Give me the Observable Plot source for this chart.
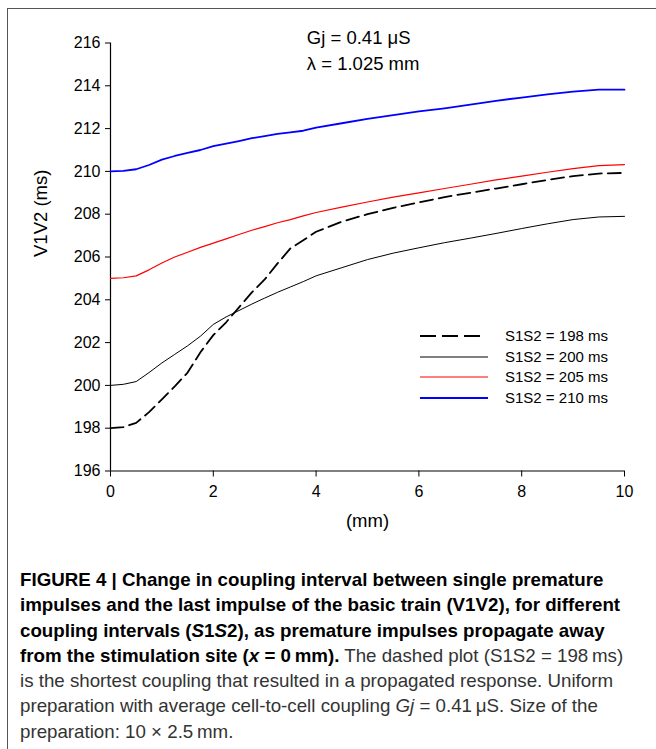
<!DOCTYPE html>
<html>
<head>
<meta charset="utf-8">
<script src="https://cdn.jsdelivr.net/npm/d3@7"></script>
<script src="https://cdn.jsdelivr.net/npm/@observablehq/plot@0.6"></script>
<style>
  html, body { margin: 0; padding: 0; background: #fff; }
  #wrap { position: relative; width: 656px; height: 749px; overflow: hidden; font-family: "Liberation Sans", Arial, sans-serif; }
  #frame { position: absolute; left: 7px; top: 7.5px; right: -10px; bottom: -10px; border-left: 1.6px solid #555; border-top: 1.6px solid #555; pointer-events: none; }
  #legend { position: absolute; left: 420px; top: 326px; font-size: 15px; color: #000; }
  #legend .row { position: relative; height: 20.6px; white-space: nowrap; }
  #legend svg { position: absolute; left: 0; top: 0; }
  #legend span { position: absolute; left: 85px; top: 1px; line-height: 18px; }
  #caption { position: absolute; left: 20px; top: 567px; width: 640px; font-family: "Liberation Sans Narrow", "Liberation Sans", Arial, sans-serif; font-size: 19px; line-height: 25.3px; color: #333; white-space: nowrap; transform: scaleX(0.985); transform-origin: 0 0; }
  #caption b { color: #000; }
</style>
</head>
<body>
<div id="wrap">
  <div id="chart"></div>
  <div id="legend"></div>
  <div id="caption"><b>FIGURE 4 | Change in coupling interval between single premature<br>impulses and the last impulse of the basic train (V1V2), for different<br>coupling intervals (<i>S</i>1<i>S</i>2), as premature impulses propagate away<br>from the stimulation site (<i>x</i> = 0&#8201;mm).</b> The dashed plot (S1S2 = 198&#8201;ms)<br>is the shortest coupling that resulted in a propagated response. Uniform<br>preparation with average cell-to-cell coupling <i>Gj</i> = 0.41&#8201;&#956;S. Size of the<br>preparation: 10 &#215; 2.5&#8201;mm.</div>
  <div id="frame"></div>
</div>
<script>
// distance from stimulation site (mm)
const distance = [0, 0.25, 0.5, 0.75, 1, 1.25, 1.5, 1.75, 2, 2.25, 2.5, 2.75, 3, 3.25, 3.5, 3.75, 4, 4.5, 5, 5.5, 6, 6.5, 7, 7.5, 8, 8.5, 9, 9.5, 10];
// V1V2 (ms) for each S1S2
const v198 = [198.0, 198.05, 198.25, 198.75, 199.35, 199.95, 200.6, 201.55, 202.35, 202.95, 203.65, 204.35, 204.95, 205.7, 206.4, 206.78, 207.18, 207.65, 208.0, 208.3, 208.55, 208.8, 209.0, 209.2, 209.4, 209.6, 209.78, 209.9, 209.93];
const v200 = [200.0, 200.05, 200.18, 200.6, 201.05, 201.45, 201.85, 202.3, 202.85, 203.2, 203.5, 203.8, 204.08, 204.35, 204.6, 204.85, 205.12, 205.5, 205.88, 206.18, 206.43, 206.67, 206.88, 207.1, 207.33, 207.55, 207.75, 207.87, 207.9];
const v205 = [205.0, 205.03, 205.12, 205.4, 205.72, 206.0, 206.22, 206.45, 206.65, 206.85, 207.05, 207.25, 207.42, 207.6, 207.75, 207.92, 208.08, 208.33, 208.57, 208.8, 209.0, 209.2, 209.4, 209.6, 209.78, 209.96, 210.13, 210.27, 210.32];
const v210 = [210.0, 210.02, 210.1, 210.3, 210.55, 210.72, 210.87, 211.0, 211.18, 211.3, 211.42, 211.55, 211.65, 211.75, 211.82, 211.9, 212.05, 212.25, 212.45, 212.63, 212.8, 212.95, 213.12, 213.3, 213.45, 213.6, 213.73, 213.82, 213.82];

const seriesLabels = ["S1S2 = 198 ms", "S1S2 = 200 ms", "S1S2 = 205 ms", "S1S2 = 210 ms"];
const seriesValues = [v198, v200, v205, v210];
const xTicks = [0, 2, 4, 6, 8, 10];
const yTicks = [196, 198, 200, 202, 204, 206, 208, 210, 212, 214, 216];
const annotations = ["Gj = 0.41 \u03bcS", "\u03bb = 1.025 mm"];
const annotationX = [3.82, 3.82];
const annotationY = [215.97, 214.76];

// styles (kept separate from data)
const styles = [
  {stroke: "#000", strokeWidth: 1.8, dash: "13,6", legendDash: "16,6", legendLen: 62},
  {stroke: "#000", strokeWidth: 1, dash: null, legendDash: null, legendLen: 68},
  {stroke: "#ff0000", strokeWidth: 1.2, dash: null, legendDash: null, legendLen: 68},
  {stroke: "#0000ff", strokeWidth: 1.8, dash: null, legendDash: null, legendLen: 68}
];

const tables = seriesValues.map((vals, i) => distance.map((d, j) => ({x: d, y: vals[j], s: seriesLabels[i]})));
const annTable = annotations.map((t, i) => ({text: t, x: annotationX[i], y: annotationY[i]}));

const chart = Plot.plot({
  width: 656,
  height: 545,
  marginLeft: 110,
  marginRight: 32,
  marginTop: 42.5,
  marginBottom: 74.5,
  x: {domain: [0, 10]},
  y: {domain: [196, 216]},
  style: {fontFamily: "'Liberation Sans', Arial, sans-serif", color: "#000", background: "transparent", overflow: "visible"},
  marks: [
    Plot.axisX({ticks: xTicks, tickSize: 6, tickPadding: 9, fontSize: 16, label: null, tickFormat: d => String(d)}),
    Plot.axisY({ticks: yTicks, tickSize: 5, tickPadding: 5, fontSize: 16, label: null, tickFormat: d => String(d)}),
    Plot.ruleX([0], {stroke: "#000", strokeWidth: 1.2}),
    Plot.ruleY([196], {stroke: "#000", strokeWidth: 1.2}),
    ...tables.map((t, i) => Plot.line(t, {
      x: "x", y: "y",
      stroke: styles[i].stroke,
      strokeWidth: styles[i].strokeWidth,
      strokeDasharray: styles[i].dash,
      curve: "linear"
    })),
    Plot.text(annTable, {x: "x", y: "y", text: "text", textAnchor: "start", lineAnchor: "bottom", fontSize: 18.5, fill: "#000"}),
    Plot.text(["V1V2 (ms)"], {frameAnchor: "left", dx: -69, rotate: -90, fontSize: 18.5, fill: "#000"}),
    Plot.text(["(mm)"], {frameAnchor: "bottom", dy: 50, lineAnchor: "middle", fontSize: 18.5, fill: "#000"})
  ]
});
document.getElementById("chart").appendChild(chart);

// legend
const legend = document.getElementById("legend");
seriesLabels.forEach((lab, i) => {
  const row = document.createElement("div");
  row.className = "row";
  const st = styles[i];
  row.innerHTML = `<svg width="70" height="20"><line x1="0" x2="${st.legendLen}" y1="10" y2="10" stroke="${st.stroke}" stroke-width="${st.strokeWidth}" ${st.legendDash ? `stroke-dasharray="${st.legendDash}"` : ""}></line></svg><span>${lab}</span>`;
  legend.appendChild(row);
});
</script>
</body>
</html>
